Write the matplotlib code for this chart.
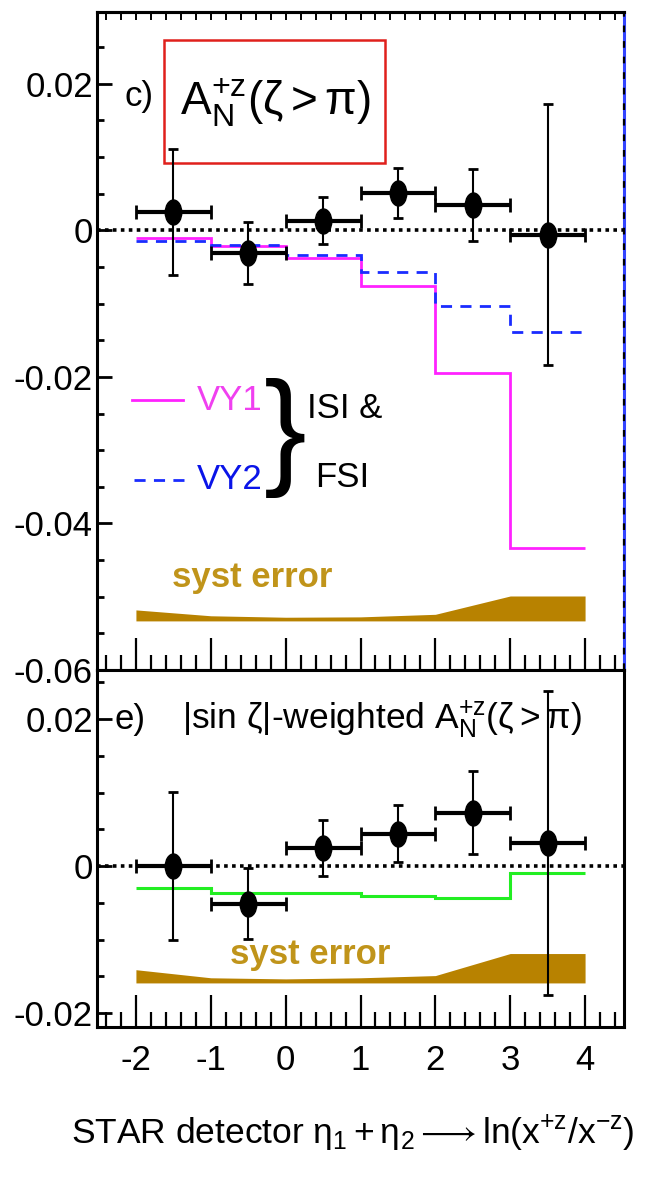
import numpy as np
import matplotlib
matplotlib.use("Agg")
import matplotlib.pyplot as plt
from matplotlib.path import Path
from matplotlib.transforms import Affine2D
from matplotlib.patches import Rectangle
from matplotlib.ticker import MultipleLocator

plt.rcParams['font.family'] = ['Liberation Sans', 'DejaVu Sans']
plt.rcParams['mathtext.fontset'] = 'custom'
plt.rcParams['mathtext.rm'] = 'Liberation Sans'
plt.rcParams['mathtext.it'] = 'Liberation Sans'
plt.rcParams['mathtext.bf'] = 'Liberation Sans:bold'
plt.rcParams['axes.unicode_minus'] = False

# ---------------- data ----------------
x_centers = [-1.5, -0.5, 0.5, 1.5, 2.5, 3.5]
x_halfwidth = [0.5, 0.5, 0.5, 0.5, 0.5, 0.5]
bin_edges = [-2, -1, 0, 1, 2, 3, 4]

# panel c)
an_c = [0.0025, -0.0031, 0.0013, 0.0051, 0.0035, -0.0006]
an_c_err = [0.0086, 0.0042, 0.0032, 0.0034, 0.0049, 0.0178]
vy1 = [-0.0011, -0.0022, -0.0038, -0.0076, -0.0195, -0.0433]
vy2 = [-0.0015, -0.0020, -0.0033, -0.0057, -0.0103, -0.0139]
syst_nodes = [-2, -1, 0, 1, 2, 3, 4]
syst_c = [0.0015, 0.0007, 0.0005, 0.00055, 0.0009, 0.0034, 0.0034]
syst_c_base = -0.0533

# panel e)
an_e = [0.0000, -0.0051, 0.0025, 0.0044, 0.0073, 0.0032]
an_e_err = [0.0101, 0.0048, 0.0038, 0.0039, 0.0057, 0.0207]
green = [-0.0030, -0.0037, -0.0037, -0.0040, -0.0044, -0.0009]
syst_e = [0.0018, 0.0007, 0.00055, 0.0007, 0.0010, 0.0040, 0.0040]
syst_e_base = -0.0159

xticks = [-2, -1, 0, 1, 2, 3, 4]
yticks_c = [0.02, 0, -0.02, -0.04, -0.06]
yticks_e = [0.02, 0, -0.02]

# ---------------- figure ----------------
W, H = 649, 1187
fig = plt.figure(figsize=(W / 100, H / 100), dpi=100)

L, R = 97, 624
top_y0, split_y, bot_y1 = 12, 670, 1027
axc = fig.add_axes([L / W, 1 - split_y / H, (R - L) / W, (split_y - top_y0) / H])
axe = fig.add_axes([L / W, 1 - bot_y1 / H, (R - L) / W, (bot_y1 - split_y) / H])

ell = Path.unit_circle().transformed(Affine2D().scale(0.66, 1.0))
GOLD = '#b88200'
GOLD_T = '#c0941a'
TICKFS = 25


def style_axis(ax, ylim, yticks, top_ticks):
    ax.set_xlim(-2.52, 4.52)
    ax.set_ylim(*ylim)
    ax.set_xticks(xticks)
    ax.set_xticklabels([f'{v:d}' for v in xticks])
    ax.xaxis.set_minor_locator(MultipleLocator(0.2))
    ax.set_yticks(yticks)
    ax.yaxis.set_minor_locator(MultipleLocator(0.005))
    ax.set_yticklabels(['0' if v == 0 else f'{v:g}' for v in yticks])
    ax.tick_params(axis='y', which='major', direction='in', length=11, width=2,
                   labelsize=TICKFS, pad=3, right=False)
    ax.tick_params(axis='y', which='minor', direction='in', length=5, width=2, right=False)
    ax.tick_params(axis='x', which='major', direction='in', length=23, width=1.6,
                   labelsize=TICKFS, pad=12, top=False)
    ax.tick_params(axis='x', which='minor', direction='in', length=11, width=1.6, top=False)
    for s in ax.spines.values():
        s.set_linewidth(2.2)
    if top_ticks:
        sec = ax.secondary_xaxis('top')
        sec.set_xticks(xticks)
        sec.xaxis.set_minor_locator(MultipleLocator(0.2))
        sec.tick_params(which='both', direction='in', length=6, width=1.4, labeltop=False)
        sec.spines['top'].set_linewidth(2.2)
    ax.axhline(0, color='black', lw=2.6, ls=(0, (1, 1.2)), zorder=2)


def draw_points(ax, y, yerr):
    ax.errorbar(x_centers, y, xerr=x_halfwidth, fmt='none', ecolor='black',
                elinewidth=3.0, capsize=5, capthick=2.0, zorder=5)
    ax.errorbar(x_centers, y, yerr=yerr, fmt='none', ecolor='black',
                elinewidth=1.5, capsize=3.5, capthick=2.0, zorder=5)
    ax.plot(x_centers, y, ls='none', marker=ell, markersize=18,
            color='black', zorder=6)


# ---------------- panel c ----------------
style_axis(axc, (-0.0597, 0.0298), yticks_c, True)
axc.tick_params(axis='x', labelbottom=False)
axc.spines['right'].set_color('#3344ff')
axc.plot([1, 1], [0, 1], transform=axc.transAxes, color='black', lw=1.6,
         ls=(0, (3, 4)), clip_on=False, zorder=7)

axc.stairs(vy1, bin_edges, baseline=None, color='#ff22ff', lw=2.0, zorder=3)
axc.stairs(vy2, bin_edges, baseline=None, color='#1a2cff', lw=2.0,
           ls=(0, (4, 3)), zorder=3)
axc.fill_between(syst_nodes, syst_c_base, np.array(syst_c) + syst_c_base,
                 color=GOLD, lw=0, zorder=2)
draw_points(axc, an_c, an_c_err)

axc.text(0.053, 0.871, 'c)', transform=axc.transAxes, fontsize=25,
         va='center', ha='left')
axc.add_patch(Rectangle((0.127, 0.7705), 0.42, 0.1865, transform=axc.transAxes,
                        fill=False, ec='#e0201c', lw=1.8, zorder=4))
axc.text(0.338, 0.862, r'$\mathrm{A_N^{+z}(\zeta > \pi)}$', transform=axc.transAxes,
         fontsize=33, ha='center', va='center')

# legend
axc.plot([0.066, 0.163], [0.41, 0.41], transform=axc.transAxes,
         color='#ff22ff', lw=2.0)
axc.text(0.189, 0.41, 'VY1', transform=axc.transAxes, color='#f040f0',
         fontsize=25, va='center', ha='left')
axc.plot([0.070, 0.167], [0.289, 0.289], transform=axc.transAxes,
         color='#1a2cff', lw=2.0, ls=(0, (4, 3)))
axc.text(0.189, 0.289, 'VY2', transform=axc.transAxes, color='#0a14e8',
         fontsize=25, va='center', ha='left')
axc.text(0.358, 0.352, '}', transform=axc.transAxes, fontsize=92,
         va='center', ha='center')
axc.text(0.398, 0.398, 'ISI &', transform=axc.transAxes, fontsize=25,
         va='center', ha='left')
axc.text(0.413, 0.293, 'FSI', transform=axc.transAxes, fontsize=25,
         va='center', ha='left')
axc.text(0.142, 0.14, 'syst error', transform=axc.transAxes, fontsize=25,
         va='center', ha='left', color=GOLD_T, fontweight='bold')

# ---------------- panel e ----------------
style_axis(axe, (-0.0219, 0.0267), yticks_e, False)
axe.stairs(green, bin_edges, baseline=None, color='#22ee22', lw=2.2, zorder=3)
axe.fill_between(syst_nodes, syst_e_base, np.array(syst_e) + syst_e_base,
                 color=GOLD, lw=0, zorder=2)
draw_points(axe, an_e, an_e_err)

axe.text(0.034, 0.86, 'e)', transform=axe.transAxes, fontsize=25,
         va='center', ha='left')
axe.text(0.161, 0.86, r'|sin $\mathrm{\zeta}$|-weighted $\mathrm{A_N^{+z}(\zeta > \pi)}$',
         transform=axe.transAxes, fontsize=25.5, va='center', ha='left')
axe.text(0.252, 0.202, 'syst error', transform=axe.transAxes, fontsize=25,
         va='center', ha='left', color=GOLD_T, fontweight='bold')

axe.set_xlabel(r'STAR detector $\mathrm{\eta_1 + \eta_2 \longrightarrow ln(x^{+z}/x^{-z})}$',
               fontsize=25.5)
axe.xaxis.set_label_coords(0.485, -0.30)
axe.xaxis.label.set_va('center')

fig.savefig('out.png', dpi=100, facecolor='white')
